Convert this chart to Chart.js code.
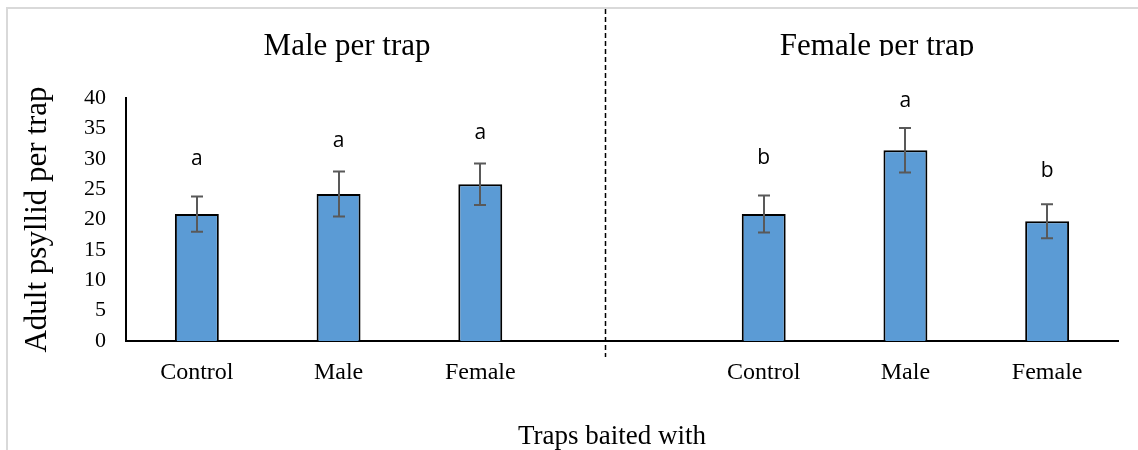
<!DOCTYPE html>
<html>
<head>
<meta charset="utf-8">
<script src="https://cdn.jsdelivr.net/npm/chart.js@4"></script>
<style>
  body { margin: 0; background: #fff; }
  #wrap { width: 1138px; height: 450px; }
</style>
</head>
<body>
<div id="wrap"><canvas id="chart" width="1138" height="450"></canvas></div>
<script>
// data (middle slot left empty as the gap between panels)
const categories  = ['Control', 'Male', 'Female', '', 'Control', 'Male', 'Female'];
const means       = [20.9, 24.2, 25.8, null, 20.9, 31.4, 19.7];
const errors      = [2.9, 3.7, 3.4, null, 3.05, 3.65, 2.8];
const letters     = ['a', 'a', 'a', '', 'b', 'a', 'b'];
const letterLevel = [30.0, 33.0, 34.3, null, 30.2, 39.5, 28.0];
const yTicks      = [0, 5, 10, 15, 20, 25, 30, 35, 40];
const panelTitles = ['Male per trap', 'Female per trap'];
const xTitle      = 'Traps baited with';

const serif = '"Liberation Serif", "Times New Roman", serif';

// border box, error bars, letters, divider and titles
const decor = {
  id: 'decor',
  beforeDraw(chart) {
    const ctx = chart.ctx;
    ctx.save();
    ctx.fillStyle = '#fff';
    ctx.fillRect(0, 0, chart.width, chart.height);
    ctx.strokeStyle = '#d9d9d9';
    ctx.lineWidth = 2;
    ctx.strokeRect(7, 8, chart.width + 20, chart.height + 20);
    ctx.restore();
  },
  afterDatasetsDraw(chart) {
    const { ctx, scales: { x, y } } = chart;
    const meta = chart.getDatasetMeta(0);
    ctx.save();

    // error bars
    ctx.strokeStyle = '#595959';
    ctx.lineWidth = 2;
    meta.data.forEach((bar, i) => {
      if (means[i] == null) return;
      const cx = Math.round(bar.x);
      const top = y.getPixelForValue(means[i] + errors[i]);
      const bot = y.getPixelForValue(means[i] - errors[i]);
      ctx.beginPath();
      ctx.moveTo(cx, top); ctx.lineTo(cx, bot);
      ctx.moveTo(cx - 6, top); ctx.lineTo(cx + 6, top);
      ctx.moveTo(cx - 6, bot); ctx.lineTo(cx + 6, bot);
      ctx.stroke();
    });

    // significance letters
    ctx.fillStyle = '#000';
    ctx.font = '21px "Open Sans", sans-serif';
    ctx.textAlign = 'center';
    ctx.textBaseline = 'middle';
    letters.forEach((t, i) => {
      if (!t) return;
      ctx.fillText(t, x.getPixelForValue(i), y.getPixelForValue(letterLevel[i]));
    });

    // dashed divider
    const dx = Math.round(x.getPixelForValue(2.88)) + 0.5;
    ctx.strokeStyle = '#000';
    ctx.lineWidth = 1.5;
    ctx.setLineDash([5, 3]);
    ctx.beginPath();
    ctx.moveTo(dx, 9);
    ctx.lineTo(dx, y.bottom + 16);
    ctx.stroke();
    ctx.setLineDash([]);

    // x axis title (sits a little left of the plot centre)
    ctx.font = '27px ' + serif;
    ctx.fillText(xTitle, x.getPixelForValue(2.93), 437);

    // panel titles
    ctx.font = '31px ' + serif;
    ctx.textBaseline = 'alphabetic';
    ctx.fillText(panelTitles[0], x.getPixelForValue(1.06), 55);
    ctx.beginPath();
    ctx.rect(0, 0, chart.width, 56);
    ctx.clip();
    ctx.fillText(panelTitles[1], x.getPixelForValue(4.8), 55);

    ctx.restore();
  }
};

new Chart(document.getElementById('chart'), {
  type: 'bar',
  data: {
    labels: categories,
    datasets: [{
      data: means,
      backgroundColor: '#5B9BD5',
      borderColor: '#000',
      borderWidth: 2,
      borderSkipped: 'bottom',
      categoryPercentage: 1,
      barPercentage: 0.31
    }]
  },
  options: {
    responsive: false,
    animation: false,
    layout: { padding: { top: 98, right: 20, left: 0, bottom: 0 } },
    plugins: { legend: { display: false }, tooltip: { enabled: false } },
    scales: {
      x: {
        grid: { display: false },
        border: { display: true, color: '#000', width: 2 },
        ticks: {
          color: '#000', font: { family: serif, size: 24 },
          padding: 9, maxRotation: 0, autoSkip: false
        },
        afterFit(s) { s.height = 109; }
      },
      y: {
        min: 0, max: 40,
        grid: { display: false },
        border: { display: true, color: '#000', width: 2 },
        afterBuildTicks(s) { s.ticks = yTicks.map(v => ({ value: v })); },
        ticks: { color: '#000', font: { family: serif, size: 22 }, padding: 12 },
        title: {
          display: true, text: 'Adult psyllid per trap', color: '#000',
          font: { family: serif, size: 31, lineHeight: 1 },
          padding: { top: 22 }
        },
        afterFit(s) { s.width = 126; }
      }
    }
  },
  plugins: [decor]
});
</script>
</body>
</html>
